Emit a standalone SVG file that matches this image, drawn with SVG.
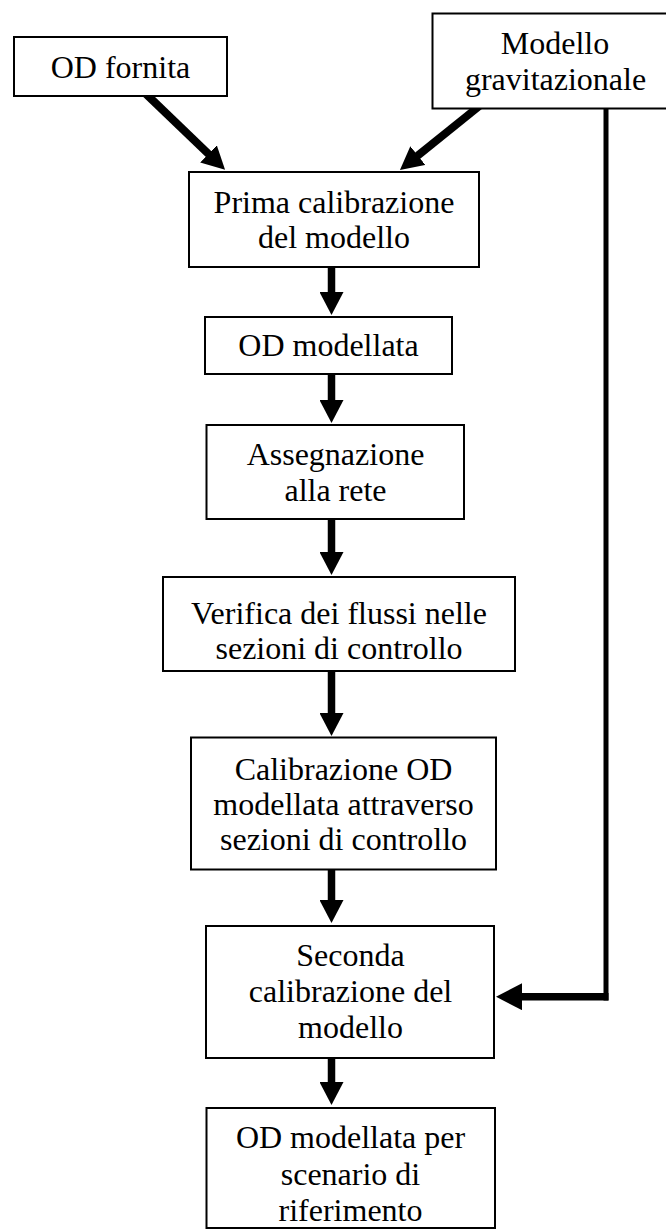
<svg xmlns="http://www.w3.org/2000/svg" width="666" height="1232" viewBox="0 0 666 1232">
<style>
.box{fill:#fff;stroke:#000;stroke-width:2}
.t{font-family:"Liberation Serif","Times New Roman",serif;font-size:32px;fill:#000;text-anchor:middle}
.c{stroke:#000;stroke-width:7.5;fill:none}
.d{stroke:#000;stroke-width:8;fill:none}
.thin{stroke:#000;stroke-width:5;fill:none}
</style>
<defs>
<marker id="ah" markerUnits="userSpaceOnUse" markerWidth="23" markerHeight="24" viewBox="0 0 23 24" refX="1" refY="12" orient="auto">
<path d="M0,0 L23,12 L0,24 z" fill="#000"/>
</marker>
<marker id="ahl" markerUnits="userSpaceOnUse" markerWidth="26" markerHeight="27" viewBox="0 0 26 27" refX="1" refY="13.5" orient="auto">
<path d="M0,0 L26,13.5 L0,27 z" fill="#000"/>
</marker>
</defs>
<rect width="666" height="1232" fill="#fff"/>
<g id="connectors">
<line class="d" x1="144" y1="92" x2="209.2" y2="154.6" marker-end="url(#ah)"/>
<line class="d" x1="480" y1="105.5" x2="417.1" y2="156.2" marker-end="url(#ah)"/>
<line class="c" x1="331.5" y1="262" x2="331.5" y2="293" marker-end="url(#ah)"/>
<line class="c" x1="331.5" y1="370" x2="331.5" y2="401" marker-end="url(#ah)"/>
<line class="c" x1="331.5" y1="515" x2="331.5" y2="553" marker-end="url(#ah)"/>
<line class="c" x1="331.5" y1="667" x2="331.5" y2="714" marker-end="url(#ah)"/>
<line class="c" x1="331.5" y1="866" x2="331.5" y2="901" marker-end="url(#ah)"/>
<line class="c" x1="331.5" y1="1054" x2="331.5" y2="1083" marker-end="url(#ah)"/>
<line class="thin" x1="606" y1="104" x2="606" y2="1000.5"/>
<line class="c" x1="608.5" y1="996.7" x2="521" y2="996.7" marker-end="url(#ahl)"/>
</g>
<g id="n-od-fornita">
<rect class="box" x="14" y="37" width="213" height="59"/>
<text class="t" x="120.5" y="77.5">OD fornita</text>
</g>
<g id="n-modello">
<rect class="box" x="432.5" y="13.5" width="240" height="95"/>
<text class="t" x="555" y="53.5">Modello</text>
<text class="t" x="555.5" y="89.5">gravitazionale</text>
</g>
<g id="n-prima">
<rect class="box" x="189" y="172" width="290" height="95"/>
<text class="t" x="334" y="212.5">Prima calibrazione</text>
<text class="t" x="334" y="247.5">del modello</text>
</g>
<g id="n-od-modellata">
<rect class="box" x="205" y="317" width="247" height="57"/>
<text class="t" x="328.5" y="356">OD modellata</text>
</g>
<g id="n-assegnazione">
<rect class="box" x="206.5" y="425" width="257.5" height="94"/>
<text class="t" x="335.5" y="465">Assegnazione</text>
<text class="t" x="335.5" y="500.5">alla rete</text>
</g>
<g id="n-verifica">
<rect class="box" x="163" y="577" width="352" height="94"/>
<text class="t" x="339" y="624">Verifica dei flussi nelle</text>
<text class="t" x="339" y="659">sezioni di controllo</text>
</g>
<g id="n-calibrazione">
<rect class="box" x="191" y="737.5" width="305" height="132"/>
<text class="t" x="343.5" y="780">Calibrazione OD</text>
<text class="t" x="343.5" y="815">modellata attraverso</text>
<text class="t" x="343.5" y="850">sezioni di controllo</text>
</g>
<g id="n-seconda">
<rect class="box" x="206" y="926" width="288" height="132"/>
<text class="t" x="350.5" y="966">Seconda</text>
<text class="t" x="350.5" y="1002">calibrazione del</text>
<text class="t" x="350.5" y="1038">modello</text>
</g>
<g id="n-finale">
<rect class="box" x="206.5" y="1108" width="288.5" height="120"/>
<text class="t" x="350.5" y="1148">OD modellata per</text>
<text class="t" x="350.5" y="1184.5">scenario di</text>
<text class="t" x="350.5" y="1220.5">riferimento</text>
</g>
</svg>
